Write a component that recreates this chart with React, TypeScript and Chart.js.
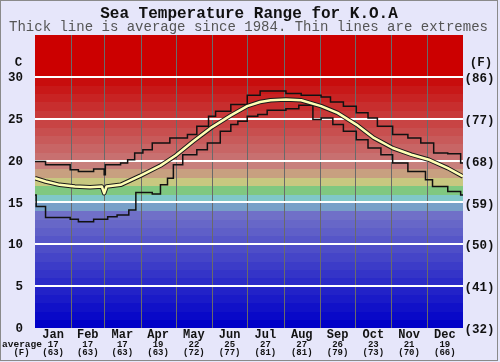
import React, { useEffect, useRef } from "react";
import { Chart, registerables } from "chart.js";

Chart.register(...registerables);

// ---- Data ----
const months = ["Jan", "Feb", "Mar", "Apr", "May", "Jun", "Jul", "Aug", "Sep", "Oct", "Nov", "Dec"];
const monthStartDays = [0, 31, 59, 90, 120, 151, 181, 212, 243, 273, 304, 334, 365];
const monthAvgC = [17, 17, 17, 19, 22, 25, 27, 27, 26, 23, 21, 19];
const monthAvgF = [63, 63, 63, 63, 72, 77, 81, 81, 79, 73, 70, 66];
const cTicks = [0, 5, 10, 15, 20, 25, 30];
const fTicks = [32, 41, 50, 59, 68, 77, 86];

// average (day of year, °C)
const avgDays = [0, 9, 21, 34, 47, 57, 59, 61, 73, 90, 107, 120, 135, 151, 167, 181, 192, 201, 214, 227, 244, 258, 274, 289, 305, 321, 336, 352, 365];
const avgTemps = [17.9, 17.5, 17.1, 16.9, 16.8, 16.9, 16.1, 16.9, 17.1, 18.2, 19.4, 20.6, 22.3, 24.0, 25.4, 26.5, 27.0, 27.2, 27.3, 27.2, 26.5, 25.7, 24.3, 22.7, 21.5, 20.7, 20.1, 19.1, 18.1];

// maximum extreme (step start day, °C)
const maxDays = [0, 9, 30, 37, 50, 59, 60, 73, 79, 85, 92, 100, 115, 130, 138, 148, 154, 167, 181, 192, 214, 227, 244, 252, 263, 274, 284, 292, 305, 318, 329, 340, 352, 363, 365];
const maxTemps = [19.9, 19.5, 18.9, 18.7, 19.0, 18.3, 19.5, 19.7, 20.1, 20.9, 21.3, 22.1, 22.7, 23.1, 24.1, 25.3, 25.9, 26.7, 27.8, 28.3, 28.0, 27.8, 27.6, 27.0, 26.5, 25.7, 25.1, 24.1, 23.1, 22.7, 22.1, 20.9, 20.8, 19.7, 19.7];

// minimum extreme (step start day, °C)
const minDays = [0, 1, 9, 30, 37, 50, 62, 70, 80, 86, 100, 107, 113, 118, 126, 138, 147, 158, 167, 173, 181, 190, 198, 214, 225, 237, 244, 254, 263, 274, 284, 295, 305, 318, 333, 339, 352, 363, 365];
const minTemps = [15.9, 14.5, 13.2, 13.0, 12.7, 13.0, 13.3, 13.5, 14.1, 16.2, 16.0, 17.1, 17.9, 19.5, 20.7, 21.3, 22.1, 23.5, 24.3, 24.7, 25.3, 25.5, 26.0, 26.2, 26.6, 24.9, 25.1, 24.3, 23.5, 22.5, 21.5, 20.7, 19.7, 18.7, 17.7, 16.9, 16.3, 15.9, 15.9];

// ---- Styles ----
function bandColor(t: number): string {
  if (t <= 13) {
    const v = Math.round((t / 13) * 112);
    return `rgb(${v},${v},200)`;
  }
  if (t === 14) return "rgb(120,160,200)";
  if (t === 15) return "rgb(128,200,200)";
  if (t === 16) return "rgb(128,200,128)";
  if (t === 17) return "rgb(200,200,128)";
  if (t === 18) return "rgb(200,160,128)";
  if (t === 19) return "rgb(200,128,124)";
  if (t >= 30) return "rgb(204,0,0)";
  const v = Math.max(0, Math.round(112 - (t - 20) * 11));
  return `rgb(200,${v},${v})`;
}

const FONT = '"Liberation Mono", "DejaVu Sans Mono", monospace';

const decorPlugin = {
  id: "decor",
  beforeDraw(chart: any) {
    const { ctx, chartArea, scales } = chart;
    const { left, right, top, bottom } = chartArea;
    const x = scales.x;
    const y = scales.y;
    ctx.save();
    ctx.fillStyle = "#e6e6fa";
    ctx.fillRect(0, 0, chart.width, chart.height);
    for (let t = 0; t < 35; t++) {
      const y0 = y.getPixelForValue(t + 1);
      const y1 = y.getPixelForValue(t);
      ctx.fillStyle = bandColor(t);
      ctx.fillRect(left, Math.floor(y0), right - left, Math.ceil(y1) - Math.floor(y0));
    }
    ctx.strokeStyle = "#6a6a6a";
    ctx.lineWidth = 1;
    monthStartDays.slice(1, 12).forEach((d) => {
      const px = Math.round(x.getPixelForValue(d)) + 0.5;
      ctx.beginPath();
      ctx.moveTo(px, top);
      ctx.lineTo(px, bottom);
      ctx.stroke();
    });
    ctx.strokeStyle = "#ffffff";
    ctx.lineWidth = 2;
    cTicks.slice(1).forEach((c) => {
      const py = Math.round(y.getPixelForValue(c));
      ctx.beginPath();
      ctx.moveTo(left, py);
      ctx.lineTo(right, py);
      ctx.stroke();
    });
    // outer frame
    ctx.strokeStyle = "#8a8a8a";
    ctx.lineWidth = 1;
    ctx.strokeRect(0.5, 0.5, 497, 360);
    ctx.restore();
  },
  afterDraw(chart: any) {
    const { ctx, scales } = chart;
    const x = scales.x;
    const y = scales.y;
    ctx.save();
    ctx.textAlign = "center";
    ctx.textBaseline = "alphabetic";
    ctx.fillStyle = "#111";
    ctx.font = `bold 16px ${FONT}`;
    ctx.fillText("Sea Temperature Range for K.O.A", 249, 18);
    ctx.fillStyle = "#555";
    ctx.font = `14px ${FONT}`;
    ctx.fillText("Thick line is average since 1984. Thin lines are extremes", 248.5, 31);

    ctx.fillStyle = "#111";
    ctx.font = `bold 12.5px ${FONT}`;
    ctx.fillText("C", 18.5, 66);
    ctx.fillText("(F)", 481, 66);
    ctx.textBaseline = "middle";
    cTicks.forEach((c, i) => {
      const py = y.getPixelForValue(c) + 1;
      ctx.textAlign = "right";
      ctx.fillText(String(c), 23, py);
      ctx.textAlign = "center";
      ctx.fillText(`(${fTicks[i]})`, 479.5, py + 1);
    });

    ctx.textBaseline = "alphabetic";
    ctx.textAlign = "center";
    months.forEach((m, i) => {
      const cx = x.getPixelForValue((monthStartDays[i] + monthStartDays[i + 1]) / 2);
      ctx.font = `bold 12px ${FONT}`;
      ctx.fillText(m, cx, 338);
      ctx.font = `bold 9px ${FONT}`;
      ctx.fillText(String(monthAvgC[i]), cx, 346.5);
      ctx.fillText(`(${monthAvgF[i]})`, cx, 355);
    });
    ctx.font = `bold 9.5px ${FONT}`;
    ctx.fillText("average", 22, 346.5);
    ctx.font = `bold 9px ${FONT}`;
    ctx.fillText("(F)", 21.5, 355);
    ctx.restore();
  },
};

export default function App() {
  const ref = useRef<HTMLCanvasElement | null>(null);
  useEffect(() => {
    if (!ref.current) return;
    const toPts = (ds: number[], ts: number[]) => ds.map((d, i) => ({ x: d, y: ts[i] }));
    const chart = new Chart(ref.current, {
      type: "line",
      data: {
        datasets: [
          {
            label: "Average",
            data: toPts(avgDays, avgTemps),
            borderColor: "#ffffb4",
            borderWidth: 2.5,
            borderJoinStyle: "round",
            pointRadius: 0,
            tension: 0,
            order: 0,
          },
          {
            label: "Average outline",
            data: toPts(avgDays, avgTemps),
            borderColor: "#1a1a1a",
            borderWidth: 4.5,
            borderJoinStyle: "round",
            pointRadius: 0,
            tension: 0,
            order: 1,
          },
          {
            label: "Max",
            data: toPts(maxDays, maxTemps),
            borderColor: "#111",
            borderWidth: 1.5,
            pointRadius: 0,
            stepped: true,
            order: 2,
          },
          {
            label: "Min",
            data: toPts(minDays, minTemps),
            borderColor: "#111",
            borderWidth: 1.5,
            pointRadius: 0,
            stepped: true,
            order: 3,
          },
        ],
      },
      options: {
        animation: false,
        responsive: false,
        devicePixelRatio: 1,
        layout: { padding: { left: 35, top: 35, right: 37, bottom: 34 } },
        plugins: { legend: { display: false }, tooltip: { enabled: false }, title: { display: false } },
        scales: {
          x: { type: "linear", min: 0, max: 365, display: false },
          y: { type: "linear", min: 0, max: 35, display: false },
        },
        events: [],
      },
      plugins: [decorPlugin],
    });
    return () => chart.destroy();
  }, []);
  return (
    <div style={{ position: "absolute", left: 0, top: 0, width: 500, height: 362 }}>
      <canvas ref={ref} width={500} height={362} style={{ display: "block" }} />
    </div>
  );
}
